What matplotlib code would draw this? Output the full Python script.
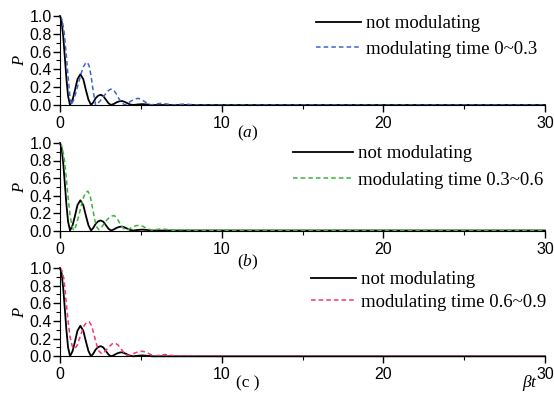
import matplotlib
matplotlib.use("Agg")
import matplotlib.pyplot as plt
from matplotlib.ticker import MultipleLocator

plt.rcParams['font.family'] = 'Liberation Sans'
plt.rcParams['mathtext.fontset'] = 'custom'
plt.rcParams['mathtext.rm'] = 'Liberation Serif'
plt.rcParams['mathtext.it'] = 'Liberation Serif:italic'

# not modulating (same in all three panels)
t_ref = [0, 0.1, 0.2, 0.31, 0.4, 0.5, 0.62, 0.78, 0.93, 1.08, 1.26, 1.44, 1.6, 1.76,
         1.92, 2.06, 2.2, 2.36, 2.52, 2.68, 2.84, 3.0, 3.15, 3.33, 3.5, 3.68, 3.83,
         4.0, 4.17, 4.35, 4.55, 4.8, 5.1, 5.4, 5.7, 6.0, 30]
p_ref = [1.0, 0.94, 0.77, 0.51, 0.29, 0.1, 0.0, 0.06, 0.17, 0.29, 0.345, 0.29, 0.17, 0.06,
         0.0, 0.03, 0.075, 0.105, 0.115, 0.1, 0.06, 0.02, 0.0, 0.012, 0.03, 0.042, 0.045,
         0.035, 0.02, 0.005, 0.0, 0.006, 0.01, 0.006, 0.0, 0.0, 0.0]

# modulating time 0~0.3
t_a = [0, 0.12, 0.25, 0.38, 0.5, 0.6, 0.7, 0.85, 1.0, 1.15, 1.3, 1.45, 1.58, 1.69, 1.8,
       1.92, 2.05, 2.2, 2.35, 2.5, 2.65, 2.8, 2.95, 3.1, 3.2, 3.35, 3.5, 3.65, 3.8, 4.0,
       4.2, 4.4, 4.6, 4.83, 5.05, 5.3, 5.6, 5.95, 6.3, 6.65, 7.0, 7.35, 7.7, 8.1, 8.5, 30]
p_a = [1.0, 0.96, 0.83, 0.58, 0.32, 0.12, 0.0, 0.06, 0.15, 0.25, 0.35, 0.43, 0.47, 0.48, 0.44,
       0.33, 0.16, 0.0, 0.02, 0.05, 0.09, 0.12, 0.155, 0.175, 0.18, 0.16, 0.12, 0.07, 0.03, 0.0,
       0.02, 0.045, 0.065, 0.075, 0.06, 0.03, 0.0, 0.012, 0.02, 0.01, 0.0, 0.007, 0.01, 0.005, 0.0, 0.0]

# modulating time 0.3~0.6
t_b = [0, 0.12, 0.25, 0.38, 0.5, 0.62, 0.74, 0.85, 0.98, 1.12, 1.27, 1.42, 1.57, 1.72, 1.86,
       2.0, 2.14, 2.27, 2.4, 2.55, 2.7, 2.85, 3.0, 3.18, 3.36, 3.52, 3.68, 3.85, 4.0, 4.12,
       4.3, 4.5, 4.7, 4.9, 5.1, 5.35, 5.7, 6.0, 6.3, 6.6, 7.0, 7.4, 7.8, 8.3, 30]
p_b = [1.0, 0.96, 0.84, 0.62, 0.38, 0.18, 0.05, 0.0, 0.05, 0.14, 0.25, 0.36, 0.43, 0.45, 0.4,
       0.27, 0.13, 0.04, 0.01, 0.03, 0.07, 0.11, 0.14, 0.165, 0.17, 0.14, 0.09, 0.04, 0.01, 0.005,
       0.02, 0.04, 0.055, 0.06, 0.05, 0.025, 0.003, 0.012, 0.02, 0.012, 0.002, 0.008, 0.006, 0.0, 0.0]

# modulating time 0.6~0.9
t_c = [0, 0.12, 0.25, 0.38, 0.5, 0.62, 0.75, 0.85, 0.93, 1.05, 1.2, 1.35, 1.5, 1.65, 1.81,
       1.95, 2.1, 2.25, 2.4, 2.58, 2.75, 2.9, 3.05, 3.22, 3.4, 3.58, 3.75, 3.92, 4.05, 4.2,
       4.4, 4.6, 4.85, 5.1, 5.35, 5.6, 5.9, 6.2, 6.5, 6.8, 7.2, 7.6, 8.0, 8.5, 30]
p_c = [1.0, 0.97, 0.87, 0.62, 0.4, 0.22, 0.12, 0.09, 0.09, 0.12, 0.2, 0.28, 0.35, 0.385, 0.39,
       0.35, 0.25, 0.14, 0.06, 0.03, 0.05, 0.08, 0.11, 0.14, 0.15, 0.13, 0.09, 0.05, 0.02, 0.01,
       0.02, 0.035, 0.052, 0.057, 0.045, 0.02, 0.005, 0.013, 0.02, 0.012, 0.003, 0.008, 0.006, 0.0, 0.0]

labels = ['modulating time 0~0.3', 'modulating time 0.3~0.6', 'modulating time 0.6~0.9']
colors = ['#3f63cc', '#3cb43c', '#ee3a6e']
tags = ['($a$)', '($b$)', '(c )']

W, H = 554, 399
fig = plt.figure(figsize=(W / 100, H / 100), dpi=100)

# panel boxes in pixels: (y of P=1, y of P=0)
boxes = [(16, 105), (143, 230.5), (268, 356.3)]
leg_pos = [(307, 36.5, 2.4, 0.47), (284, 167, 3.2, 0.52), (302, 291, 2.4, 0.31)]
tag_y = [133, 262, 383]
curves = [(t_a, p_a), (t_b, p_b), (t_c, p_c)]

for i in range(3):
    top, bot = boxes[i]
    ax = fig.add_axes([60 / W, 1 - bot / H, 485 / W, (bot - top) / H])
    ax.plot(t_ref, p_ref, color='black', lw=1.3, label='not modulating', clip_on=False)
    ax.plot(curves[i][0], curves[i][1], color=colors[i], lw=1.1, ls=(0, (3, 2)),
            label=labels[i], clip_on=False)
    ax.set_xlim(0, 30)
    ax.set_ylim(0, 1.0)
    ax.spines['top'].set_visible(False)
    ax.spines['right'].set_visible(False)
    ax.xaxis.set_major_locator(MultipleLocator(10))
    ax.xaxis.set_minor_locator(MultipleLocator(5))
    ax.yaxis.set_major_locator(MultipleLocator(0.2))
    ax.yaxis.set_minor_locator(MultipleLocator(0.1))
    ax.yaxis.set_major_formatter(plt.FormatStrFormatter('%.1f'))
    ax.tick_params(which='major', length=5, width=1, labelsize=11.5)
    ax.tick_params(axis='x', which='major', pad=3)
    ax.tick_params(axis='y', which='major', pad=1)
    ax.tick_params(which='minor', length=3, width=0.8)
    ax.set_ylabel('$P$', fontsize=12, labelpad=2)
    lx, ly, hl, ls = leg_pos[i]
    ax.legend(loc='center left', bbox_to_anchor=(lx / W, 1 - ly / H),
              bbox_transform=fig.transFigure, frameon=False, borderpad=0,
              handlelength=hl, handletextpad=0.25, labelspacing=ls,
              prop={'family': 'Liberation Serif', 'size': 13.5})
    fig.text(248 / W, 1 - tag_y[i] / H, tags[i], ha='center', va='center',
             fontsize=12.5, family='Liberation Serif')

fig.text(530 / W, 1 - 383 / H, r'$\beta t$', ha='center', va='center', fontsize=12.5)

fig.savefig('out.png', dpi=100)
